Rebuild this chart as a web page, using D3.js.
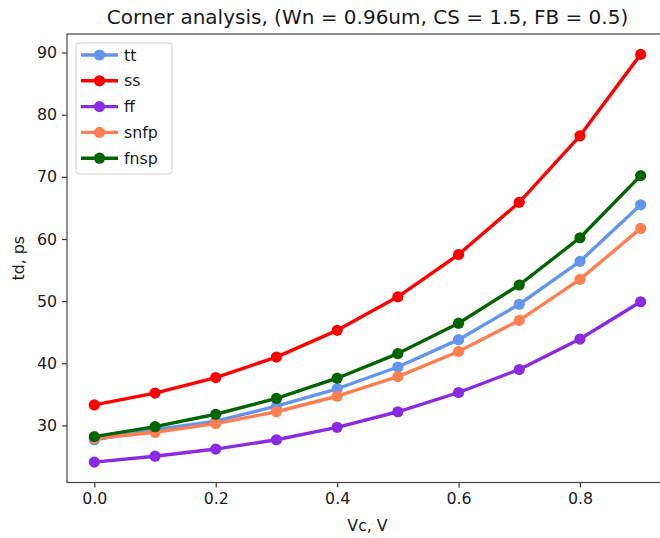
<!DOCTYPE html>
<html>
<head>
<meta charset="utf-8">
<script src="https://cdn.jsdelivr.net/npm/d3@7"></script>
<style>
  body { margin: 0; background: #fff; }
  svg { font-family: "DejaVu Sans", sans-serif; }
</style>
</head>
<body>
<div id="chart"></div>
<script>
// data
const vc = [0.0, 0.1, 0.2, 0.3, 0.4, 0.5, 0.6, 0.7, 0.8, 0.9]
const tt   = [27.7, 29.3, 30.7, 33.1, 35.9, 39.4, 43.8, 49.5, 56.4, 65.5]
const ss   = [33.3, 35.2, 37.7, 41.0, 45.3, 50.7, 57.5, 65.9, 76.6, 89.7]
const ff   = [24.1, 25.05, 26.2, 27.7, 29.7, 32.2, 35.3, 39.0, 43.9, 49.9]
const snfp = [27.9, 28.9, 30.3, 32.2, 34.7, 37.85, 41.9, 46.9, 53.5, 61.7]
const fnsp = [28.2, 29.8, 31.8, 34.35, 37.6, 41.56, 46.45, 52.6, 60.2, 70.2]
const seriesNames = ['tt', 'ss', 'ff', 'snfp', 'fnsp']
const xTicks = [0.0, 0.2, 0.4, 0.6, 0.8]
const yTicks = [30, 40, 50, 60, 70, 80, 90]

const colors = {tt: '#6495ED', ss: '#FF0000', ff: '#8A2BE2', snfp: '#FF7F50', fnsp: '#006400'}
const values = {tt, ss, ff, snfp, fnsp}

const W = 660, H = 538
const margin = {top: 34, left: 67, bottom: 55.5}
const plotW = 601, plotH = H - margin.top - margin.bottom

const svg = d3.select('#chart').append('svg')
  .attr('width', W).attr('height', H)

const pad = svg.append('g')
  .attr('transform', `translate(${margin.left},${margin.top})`)

// matplotlib style 5% margins
let allY = seriesNames.flatMap(n => values[n])
let yMin = d3.min(allY), yMax = d3.max(allY)
let yM = (yMax - yMin) * 0.05
let xM = (d3.max(vc) - d3.min(vc)) * 0.05

const x = d3.scaleLinear().domain([d3.min(vc) - xM, d3.max(vc) + xM]).range([0, plotW])
const y = d3.scaleLinear().domain([yMin - yM, yMax + yM]).range([plotH, 0])

// axes
let xAxis = pad.append('g')
  .attr('transform', `translate(0,${plotH})`)
  .call(d3.axisBottom(x).tickValues(xTicks).tickFormat(d3.format('.1f')).tickSize(5).tickPadding(5))
let yAxis = pad.append('g')
  .call(d3.axisLeft(y).tickValues(yTicks).tickFormat(d3.format('d')).tickSize(5).tickPadding(5))

for (let ax of [xAxis, yAxis]) {
  ax.select('.domain').remove()
  ax.selectAll('line').attr('stroke', '#333').attr('stroke-width', 1.2)
  ax.selectAll('text').attr('fill', '#1a1a1a').style('font-size', '15.8px')
    .style('font-family', '"DejaVu Sans", sans-serif')
}

// frame
pad.append('rect')
  .attr('x', 0).attr('y', 0).attr('width', plotW).attr('height', plotH)
  .attr('fill', 'none').attr('stroke', '#444').attr('stroke-width', 1.2)

// curves
const line = d3.line()
  .x((d, i) => x(vc[i]))
  .y(d => y(d))

for (let name of seriesNames) {
  let g = pad.append('g').attr('class', `curve ${name}`)
  g.append('path')
    .attr('d', line(values[name]))
    .attr('fill', 'none')
    .attr('stroke', colors[name])
    .attr('stroke-width', 3.4)
    .attr('stroke-linejoin', 'round')
  g.selectAll('circle')
    .data(values[name])
    .enter().append('circle')
    .attr('cx', (d, i) => x(vc[i]))
    .attr('cy', d => y(d))
    .attr('r', 5.6)
    .attr('fill', colors[name])
}

// legend
let legend = svg.append('g').attr('transform', 'translate(76,43)')
legend.append('rect')
  .attr('width', 96).attr('height', 131).attr('rx', 3)
  .attr('fill', 'white').attr('fill-opacity', 0.8)
  .attr('stroke', '#d0d0d0').attr('stroke-width', 1)
seriesNames.forEach((name, i) => {
  let cy = 12 + i * 25.8
  legend.append('line')
    .attr('x1', 5).attr('x2', 42).attr('y1', cy).attr('y2', cy)
    .attr('stroke', colors[name]).attr('stroke-width', 3.4)
  legend.append('circle')
    .attr('cx', 23.5).attr('cy', cy).attr('r', 5.6).attr('fill', colors[name])
  legend.append('text')
    .attr('x', 48).attr('y', cy + 5.5)
    .style('font-size', '15.8px').attr('fill', '#1a1a1a')
    .text(name)
})

// title and labels
svg.append('text')
  .attr('x', margin.left + plotW / 2).attr('y', 24)
  .attr('text-anchor', 'middle')
  .style('font-size', '20px').attr('fill', '#1a1a1a')
  .text('Corner analysis, (Wn = 0.96um, CS = 1.5, FB = 0.5)')

svg.append('text')
  .attr('x', margin.left + plotW / 2).attr('y', 531)
  .attr('text-anchor', 'middle')
  .style('font-size', '15.8px').attr('fill', '#1a1a1a')
  .text('Vc, V')

svg.append('text')
  .attr('transform', `translate(24,${margin.top + plotH / 2}) rotate(-90)`)
  .attr('text-anchor', 'middle')
  .style('font-size', '15.8px').attr('fill', '#1a1a1a')
  .text('td, ps')
</script>
</body>
</html>
